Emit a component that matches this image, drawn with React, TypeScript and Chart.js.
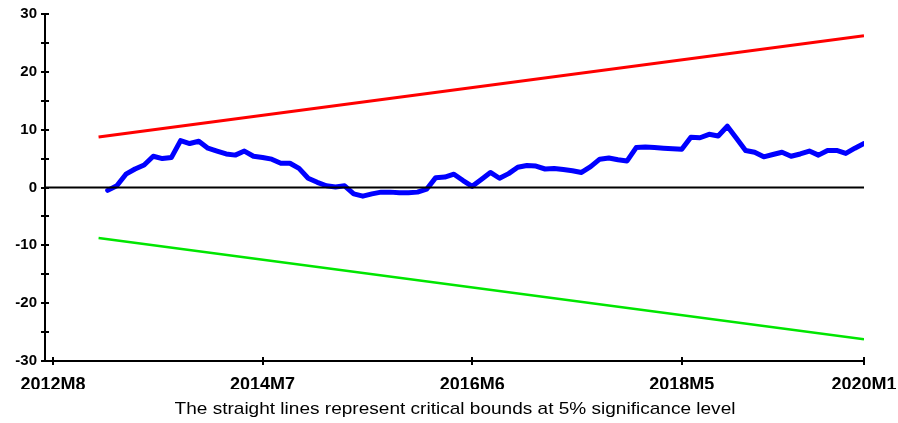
import React, { useEffect, useRef } from "react";
import { Chart, registerables } from "chart.js";

Chart.register(...registerables);

// ---- data ----
const originMonth = "2012M8";
const xTickLabels = ["2012M8", "2014M7", "2016M6", "2018M5", "2020M1"];

const cusumStart = "2013M2";
const cusum = [
  -0.5, 0.3, 2.3, 3.2, 3.9, 5.4, 5.0, 5.2, 8.1, 7.6, 8.0, 6.8, 6.3, 5.8,
  5.6, 6.3, 5.4, 5.2, 4.9, 4.2, 4.2, 3.3, 1.6, 0.9, 0.3, 0.1, 0.3, -1.1,
  -1.5, -1.1, -0.8, -0.8, -0.9, -0.9, -0.8, -0.3, 1.7, 1.8, 2.3, 1.2, 0.2,
  1.4, 2.6, 1.6, 2.4, 3.5, 3.8, 3.7, 3.2, 3.3, 3.1, 2.9, 2.6, 3.6, 4.9,
  5.1, 4.8, 4.6, 6.9, 7.0, 6.9, 6.8, 6.7, 6.6, 8.7, 8.6, 9.2, 8.9, 10.6,
  8.5, 6.4, 6.1, 5.3, 5.7, 6.1, 5.4, 5.8, 6.3, 5.6, 6.4, 6.4, 5.9, 6.8, 7.6,
];

const boundDates = ["2013M1", "2020M1"];
const upperBound = [8.75, 26.25];
const lowerBound = [-8.75, -26.25];

const yMin = -30;
const yMax = 30;
const yStep = 5;

const footnote = "The straight lines represent critical bounds at 5% significance level";

// ---- helpers ----
const parseMonth = (s: string) => s.split("M").map(Number);
const monthIndex = (s: string) => {
  const [y, m] = parseMonth(s);
  const [oy, om] = parseMonth(originMonth);
  return (y - oy) * 12 + (m - om);
};

const FONT = 'Arial, "Liberation Sans", sans-serif';

const axisDeco = {
  id: "axisDeco",
  afterDatasetsDraw(chart: any) {
    const { ctx, chartArea, scales } = chart;
    const x = scales.x;
    const y = scales.y;
    ctx.save();
    ctx.strokeStyle = "#000";
    ctx.lineWidth = 2;
    const y0 = y.getPixelForValue(0);
    ctx.beginPath();
    ctx.moveTo(chartArea.left, y0);
    ctx.lineTo(chartArea.right, y0);
    ctx.stroke();
    ctx.beginPath();
    y.ticks.forEach((t: any) => {
      const py = Math.round(y.getPixelForValue(t.value));
      ctx.moveTo(chartArea.left, py);
      ctx.lineTo(chartArea.left + 4, py);
    });
    x.ticks.forEach((t: any) => {
      const px = Math.round(x.getPixelForValue(t.value));
      ctx.moveTo(px, chartArea.bottom);
      ctx.lineTo(px, chartArea.bottom - 4);
    });
    ctx.stroke();
    ctx.restore();
  },
};

export default function App() {
  const ref = useRef<HTMLCanvasElement | null>(null);

  useEffect(() => {
    if (!ref.current) return;
    const s0 = monthIndex(cusumStart);
    const cusumPts = cusum.map((v, i) => ({ x: s0 + i, y: v }));
    const upPts = boundDates.map((d, i) => ({ x: monthIndex(d), y: upperBound[i] }));
    const loPts = boundDates.map((d, i) => ({ x: monthIndex(d), y: lowerBound[i] }));
    const tickIdx = xTickLabels.map(monthIndex);
    const lastIdx = tickIdx[tickIdx.length - 1];

    const chart = new Chart(ref.current, {
      type: "line",
      data: {
        datasets: [
          {
            label: "CUSUM",
            data: cusumPts,
            borderColor: "#0000ff",
            borderWidth: 5,
            pointRadius: 0,
            borderJoinStyle: "round",
            borderCapStyle: "round",
            tension: 0,
          },
          {
            label: "Upper",
            data: upPts,
            borderColor: "#ff0000",
            borderWidth: 3,
            pointRadius: 0,
          },
          {
            label: "Lower",
            data: loPts,
            borderColor: "#00e600",
            borderWidth: 2.5,
            pointRadius: 0,
          },
        ],
      },
      options: {
        animation: false,
        responsive: false,
        maintainAspectRatio: false,
        layout: { padding: { top: 14, right: 34, left: 0, bottom: 34 } },
        plugins: {
          legend: { display: false },
          tooltip: { enabled: false },
          title: { display: false },
        },
        scales: {
          x: {
            type: "linear",
            min: -0.88,
            max: lastIdx,
            afterBuildTicks: (scale: any) => {
              scale.ticks = tickIdx.map((v) => ({ value: v }));
            },
            afterFit: (scale: any) => {
              scale.height = 28;
              scale.paddingLeft = 0;
              scale.paddingRight = 0;
            },
            ticks: {
              autoSkip: false,
              maxRotation: 0,
              padding: 9,
              color: "#000",
              font: { family: FONT, size: 18, weight: "bold" },
              callback: (v: any) => xTickLabels[tickIdx.indexOf(Number(v))] ?? "",
            },
            grid: { drawOnChartArea: false, drawTicks: true, tickLength: 4, color: "#000", lineWidth: 2 },
            border: { display: true, color: "#000", width: 2 },
          },
          y: {
            type: "linear",
            min: yMin,
            max: yMax,
            afterFit: (scale: any) => {
              scale.width = 45;
            },
            ticks: {
              stepSize: yStep,
              padding: 4,
              color: "#000",
              font: { family: FONT, size: 15, weight: "bold" },
              callback: (v: any) => (Number(v) % 10 === 0 ? String(v) : ""),
            },
            grid: { drawOnChartArea: false, drawTicks: true, tickLength: 4, color: "#000", lineWidth: 2 },
            border: { display: true, color: "#000", width: 2 },
          },
        },
      },
      plugins: [axisDeco],
    });
    return () => chart.destroy();
  }, []);

  return (
    <div style={{ position: "fixed", left: 0, top: 0, width: 898, height: 423, background: "#fff" }}>
      <canvas ref={ref} width={898} height={423} style={{ width: 898, height: 423, display: "block" }} />
      <div
        style={{
          position: "absolute",
          left: 455,
          top: 399,
          transform: "translateX(-50%) scaleX(1.12)",
          whiteSpace: "nowrap",
          fontFamily: FONT,
          fontSize: 17,
          lineHeight: "20px",
          color: "#000",
        }}
      >
        {footnote}
      </div>
    </div>
  );
}
